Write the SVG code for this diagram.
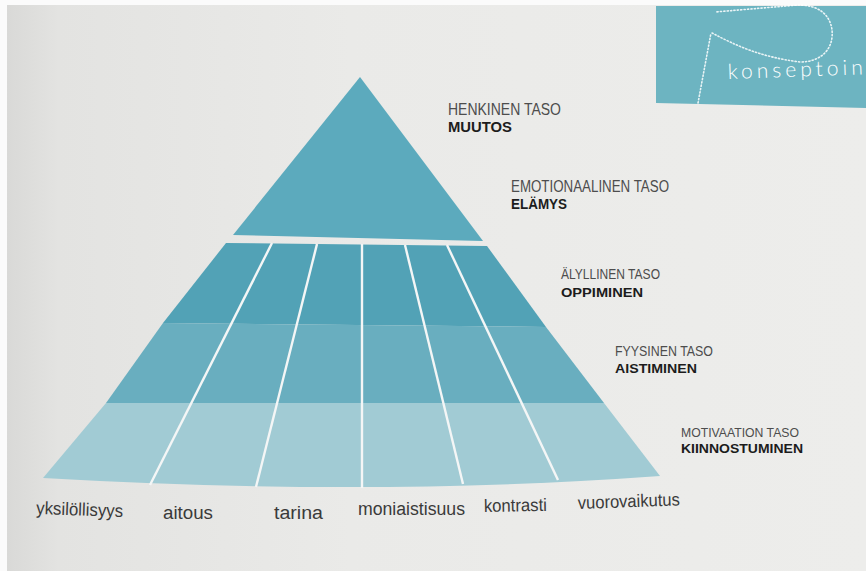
<svg xmlns="http://www.w3.org/2000/svg" width="866" height="571" viewBox="0 0 866 571">
  <defs>
    <linearGradient id="page" x1="0" y1="0" x2="1" y2="0">
      <stop offset="0" stop-color="#d9d9d7"/>
      <stop offset="0.06" stop-color="#e3e3e1"/>
      <stop offset="0.4" stop-color="#eaeae8"/>
      <stop offset="1" stop-color="#ededeb"/>
    </linearGradient>
    <style>
      .lvl { font-family: "Liberation Sans Narrow", "Liberation Sans", Arial, sans-serif; fill: #4d4d4d; }
      .key { font-family: "Liberation Sans", Arial, sans-serif; font-weight: bold; fill: #1c1c1c; }
      .base { font-family: "Liberation Sans", Arial, sans-serif; font-size: 18px; fill: #3a3a3a; }
      .div { stroke: #f4f6f6; stroke-width: 2.4; stroke-linecap: butt; fill: none; }
      .dots { stroke: #ffffff; stroke-width: 1.6; stroke-dasharray: 1.2 2.2; stroke-linecap: round; fill: none; opacity: 0.85; }
    </style>
  </defs>

  <!-- page -->
  <rect x="0" y="0" width="866" height="571" fill="#fbfbfb"/>
  <rect x="7" y="5" width="859" height="566" fill="url(#page)"/>

  <!-- corner box -->
  <g id="corner-box">
    <polygon points="656,6 866,6 866,108 656,103" fill="#6db4c1"/>
    <path class="dots" d="M698,103 L711,33"/>
    <path class="dots" d="M712,33 C735,45 760,57 800,62 C822,62 834,48 832,30 C830,14 818,5 798,5 L715,12"/>
    <text x="728" y="79" font-family="Lato, 'Liberation Sans', sans-serif" font-weight="300" font-size="21" letter-spacing="4" fill="#ffffff" transform="rotate(-2 728 79)">konseptoin</text>
  </g>

  <!-- pyramid -->
  <g id="level-henkinen-emotionaalinen">
    <polygon points="360,77 483,241 233,235" fill="#5caabd"/>
  </g>
  <g id="level-alyllinen">
    <polygon points="226,243 487,246 546,327 163,323" fill="#52a2b6"/>
  </g>
  <g id="level-fyysinen">
    <polygon points="163,323 546,327 604,403 106,403" fill="#69aebf"/>
  </g>
  <g id="level-motivaatio">
    <path d="M106,403 L604,403 L660,476 Q372,497 43,478 Z" fill="#a1cbd4"/>
  </g>

  <g id="dividers">
    <line class="div" x1="272" y1="243" x2="150" y2="485"/>
    <line class="div" x1="317" y1="244" x2="256" y2="487"/>
    <line class="div" x1="362" y1="244" x2="362" y2="488"/>
    <line class="div" x1="405" y1="245" x2="463" y2="484"/>
    <line class="div" x1="447" y1="245" x2="558" y2="480"/>
  </g>

  <!-- level labels -->
  <g id="label-henkinen">
    <text class="lvl" x="448" y="115" font-size="16" textLength="113" lengthAdjust="spacingAndGlyphs">HENKINEN TASO</text>
    <text class="key" x="448" y="132" font-size="15" textLength="64" lengthAdjust="spacingAndGlyphs">MUUTOS</text>
  </g>
  <g id="label-emotionaalinen">
    <text class="lvl" x="511" y="192" font-size="16" textLength="158" lengthAdjust="spacingAndGlyphs">EMOTIONAALINEN TASO</text>
    <text class="key" x="511" y="209" font-size="14.5" textLength="56" lengthAdjust="spacingAndGlyphs">ELÄMYS</text>
  </g>
  <g id="label-alyllinen">
    <text class="lvl" x="561" y="279" font-size="14" textLength="99" lengthAdjust="spacingAndGlyphs">ÄLYLLINEN TASO</text>
    <text class="key" x="561" y="297" font-size="13.5" textLength="82" lengthAdjust="spacingAndGlyphs">OPPIMINEN</text>
  </g>
  <g id="label-fyysinen">
    <text class="lvl" x="615" y="356" font-size="14" textLength="98" lengthAdjust="spacingAndGlyphs">FYYSINEN TASO</text>
    <text class="key" x="615" y="373" font-size="13.5" textLength="82" lengthAdjust="spacingAndGlyphs">AISTIMINEN</text>
  </g>
  <g id="label-motivaatio">
    <text class="lvl" x="681" y="437" font-size="13.5" textLength="118" lengthAdjust="spacingAndGlyphs">MOTIVAATION TASO</text>
    <text class="key" x="681" y="453" font-size="13" textLength="122" lengthAdjust="spacingAndGlyphs">KIINNOSTUMINEN</text>
  </g>

  <!-- column labels -->
  <g id="col-yksilollisyys">
    <text class="base" x="36" y="514" textLength="87" lengthAdjust="spacingAndGlyphs" transform="rotate(2 36 514)">yksilöllisyys</text>
  </g>
  <g id="col-aitous">
    <text class="base" x="163" y="519" textLength="50" lengthAdjust="spacingAndGlyphs">aitous</text>
  </g>
  <g id="col-tarina">
    <text class="base" x="274" y="519" textLength="49" lengthAdjust="spacingAndGlyphs">tarina</text>
  </g>
  <g id="col-moniaistisuus">
    <text class="base" x="358" y="515" textLength="107" lengthAdjust="spacingAndGlyphs">moniaistisuus</text>
  </g>
  <g id="col-kontrasti">
    <text class="base" x="484" y="512" textLength="63" lengthAdjust="spacingAndGlyphs" transform="rotate(-1 484 512)">kontrasti</text>
  </g>
  <g id="col-vuorovaikutus">
    <text class="base" x="578" y="509" textLength="102" lengthAdjust="spacingAndGlyphs" transform="rotate(-2 578 509)">vuorovaikutus</text>
  </g>
</svg>
